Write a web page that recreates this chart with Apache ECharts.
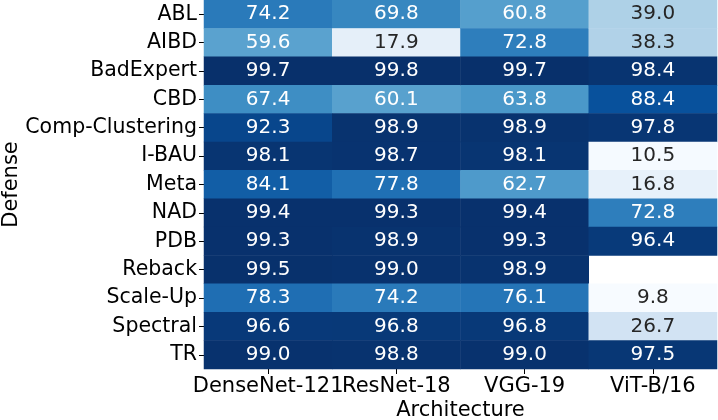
<!DOCTYPE html>
<html>
<head>
<meta charset="utf-8">
<script src="https://cdn.jsdelivr.net/npm/echarts@6/dist/echarts.min.js"></script>
<style>html,body{margin:0;padding:0;background:#fff;}#c{width:718px;height:420px;}</style>
</head>
<body>
<div id="c"></div>
<script>
var architectures = ["DenseNet-121", "ResNet-18", "VGG-19", "ViT-B/16"];
var defenses = ["ABL", "AIBD", "BadExpert", "CBD", "Comp-Clustering", "I-BAU", "Meta", "NAD", "PDB", "Reback", "Scale-Up", "Spectral", "TR"];
var denseNet121 = [74.2, 59.6, 99.7, 67.4, 92.3, 98.1, 84.1, 99.4, 99.3, 99.5, 78.3, 96.6, 99.0];
var resNet18    = [69.8, 17.9, 99.8, 60.1, 98.9, 98.7, 77.8, 99.3, 98.9, 99.0, 74.2, 96.8, 98.8];
var vgg19       = [60.8, 72.8, 99.7, 63.8, 98.9, 98.1, 62.7, 99.4, 99.3, 98.9, 76.1, 96.8, 99.0];
var vitB16      = [39.0, 38.3, 98.4, 88.4, 97.8, 10.5, 16.8, 72.8, 96.4, null, 9.8, 26.7, 97.5];

var columns = [denseNet121, resNet18, vgg19, vitB16];
var data = [];
columns.forEach(function (col, ci) {
  col.forEach(function (v, ri) {
    if (v === null) return;
    data.push({
      value: [ci, ri, v],
      label: { color: v < 50 ? '#262626' : '#ffffff' }
    });
  });
});

var FONT = 'DejaVu Sans';
var chart = echarts.init(document.getElementById('c'));
chart.setOption({
  animation: false,
  backgroundColor: '#ffffff',
  grid: { left: 204, right: 1, top: 0, bottom: 51, containLabel: false, outerBoundsMode: 'none' },
  xAxis: {
    type: 'category',
    data: architectures,
    name: 'Architecture',
    nameLocation: 'middle',
    nameGap: 31,
    nameMoveOverlap: false,
    nameTextStyle: { fontFamily: FONT, fontSize: 21, color: '#000' },
    axisLine: { show: false },
    axisTick: { show: true, alignWithLabel: true, length: 5, lineStyle: { color: '#000', width: 1 } },
    axisLabel: { fontFamily: FONT, fontSize: 21, color: '#000', margin: 7, interval: 0, hideOverlap: false },
    splitLine: { show: false }
  },
  yAxis: {
    type: 'category',
    data: defenses,
    inverse: true,
    name: 'Defense',
    nameLocation: 'middle',
    nameGap: 182,
    nameMoveOverlap: false,
    nameTextStyle: { fontFamily: FONT, fontSize: 21, color: '#000' },
    axisLine: { show: false },
    axisTick: { show: true, alignWithLabel: true, length: 5, lineStyle: { color: '#000', width: 1 } },
    axisLabel: { fontFamily: FONT, fontSize: 20.5, color: '#000', margin: 7, interval: 0 },
    splitLine: { show: false }
  },
  visualMap: {
    show: false,
    min: 9.8,
    max: 99.8,
    dimension: 2,
    inRange: { color: ['#f7fbff', '#deebf7', '#c6dbef', '#9ecae1', '#6baed6', '#4292c6', '#2171b5', '#08519c', '#08306b'] }
  },
  series: [{
    type: 'heatmap',
    data: data,
    label: {
      show: true,
      fontFamily: FONT,
      fontSize: 20,
      formatter: function (p) { return p.value[2].toFixed(1); }
    },
    itemStyle: { borderWidth: 0 },
    emphasis: { disabled: true }
  }]
});
</script>
</body>
</html>
